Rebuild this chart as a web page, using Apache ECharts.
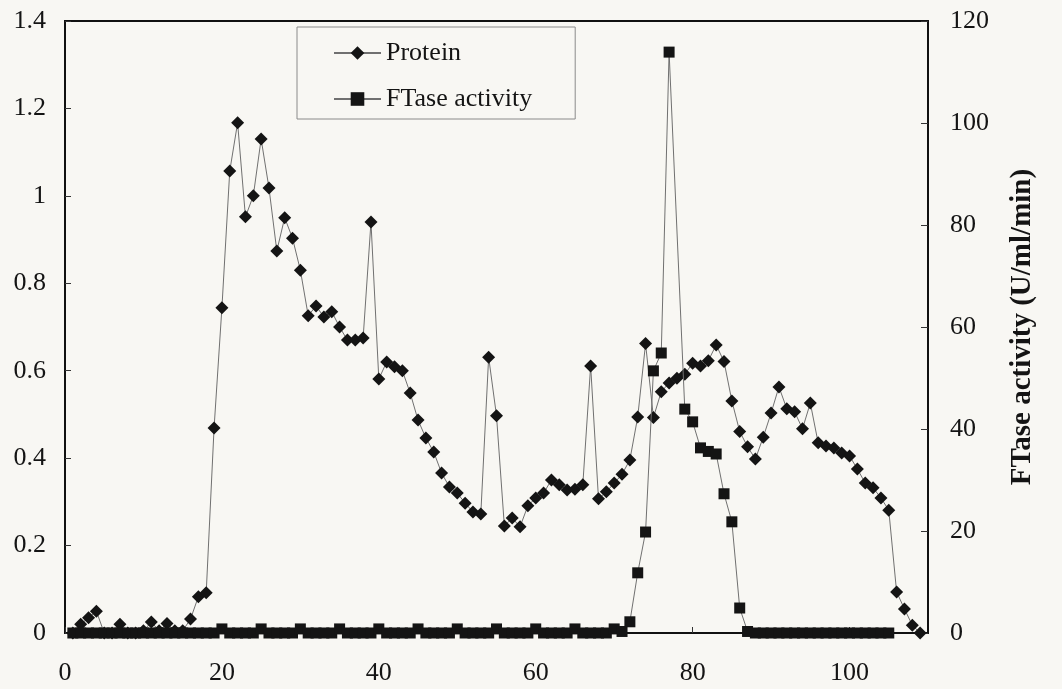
<!DOCTYPE html>
<html>
<head>
<meta charset="utf-8">
<script src="https://cdn.jsdelivr.net/npm/echarts@6/dist/echarts.min.js"></script>
<style>
  html, body { margin: 0; padding: 0; background: #f8f7f3; }
  #chart { width: 1062px; height: 689px; }
</style>
</head>
<body>
<div id="chart"></div>
<script>
// Elution profile: fraction number vs. protein (A280) and FTase activity
const firstFraction = 1;

// Protein content, fractions 1..109
const protein = [
  0.00, 0.02, 0.035, 0.05, 0.00, 0.00, 0.02, 0.00, 0.00, 0.005,
  0.025, 0.005, 0.022, 0.005, 0.005, 0.032, 0.083, 0.092, 0.469, 0.744,
  1.057, 1.167, 0.952, 1.00, 1.13, 1.018, 0.874, 0.95, 0.903, 0.83,
  0.726, 0.748, 0.723, 0.735, 0.70, 0.67, 0.67, 0.675, 0.94, 0.581,
  0.62, 0.609, 0.60, 0.549, 0.487, 0.446, 0.414, 0.366, 0.334, 0.32,
  0.297, 0.277, 0.272, 0.631, 0.497, 0.245, 0.263, 0.243, 0.291, 0.309,
  0.32, 0.35, 0.339, 0.327, 0.329, 0.339, 0.611, 0.307, 0.323, 0.343,
  0.363, 0.396, 0.494, 0.662, 0.493, 0.552, 0.572, 0.583, 0.592, 0.617,
  0.611, 0.623, 0.659, 0.621, 0.531, 0.461, 0.426, 0.398, 0.448, 0.503,
  0.563, 0.513, 0.506, 0.467, 0.526, 0.435, 0.428, 0.423, 0.412, 0.405,
  0.375, 0.343, 0.332, 0.309, 0.281, 0.094, 0.055, 0.018, 0.00
];

// FTase activity (U/ml/min), fractions 1..105 (fraction 78 not assayed)
const ftase = [
  0, 0, 0, 0, 0, 0, 0, 0, 0, 0,
  0, 0, 0, 0, 0, 0, 0, 0, 0, 0.8,
  0, 0, 0, 0, 0.8, 0, 0, 0, 0, 0.8,
  0, 0, 0, 0, 0.8, 0, 0, 0, 0, 0.8,
  0, 0, 0, 0, 0.8, 0, 0, 0, 0, 0.8,
  0, 0, 0, 0, 0.8, 0, 0, 0, 0, 0.8,
  0, 0, 0, 0, 0.8, 0, 0, 0, 0, 0.8,
  0.3, 2.2, 11.8, 19.8, 51.4, 54.9, 113.9, null, 43.9, 41.4,
  36.3, 35.6, 35.1, 27.3, 21.8, 4.9, 0.3, 0, 0, 0,
  0, 0, 0, 0, 0, 0, 0, 0, 0, 0,
  0, 0, 0, 0, 0
];

const xTicks = { min: 0, max: 110, interval: 20 };
const leftTicks = { min: 0, max: 1.4, interval: 0.2 };
const rightTicks = { min: 0, max: 120, interval: 20 };

const toPairs = arr => arr.map((v, i) => [firstFraction + i, v]);

const serif = '"Liberation Serif", "Times New Roman", serif';
const ink = '#141414';

const chart = echarts.init(document.getElementById('chart'), null, { renderer: 'canvas' });

chart.setOption({
  backgroundColor: '#f8f7f3',
  animation: false,
  grid: {
    left: 65, right: 134, top: 21, bottom: 56,
    show: true, borderColor: '#111', borderWidth: 2,
    backgroundColor: 'transparent'
  },
  legend: {
    orient: 'vertical',
    left: 297, top: 27,
    padding: [13, 43, 7, 36],
    itemWidth: 47, itemHeight: 17, itemGap: 20,
    borderColor: '#8a8a8a', borderWidth: 1,
    backgroundColor: 'transparent',
    textStyle: { fontFamily: serif, fontSize: 26, lineHeight: 26, color: ink },
    data: ['Protein', 'FTase activity']
  },
  xAxis: {
    type: 'value',
    min: xTicks.min, max: xTicks.max, interval: xTicks.interval,
    axisLine: { lineStyle: { color: '#111', width: 2 } },
    axisTick: { inside: true, length: 6, lineStyle: { color: '#333' } },
    axisLabel: { showMaxLabel: false, margin: 27, fontFamily: serif, fontSize: 26, color: ink },
    splitLine: { show: false }
  },
  yAxis: [
    {
      type: 'value',
      min: leftTicks.min, max: leftTicks.max, interval: leftTicks.interval,
      axisLine: { show: true, lineStyle: { color: '#111', width: 2 } },
      axisTick: { show: true, inside: true, length: 6, lineStyle: { color: '#333' } },
      axisLabel: { margin: 19, fontFamily: serif, fontSize: 26, color: ink },
      splitLine: { show: false }
    },
    {
      type: 'value',
      position: 'right',
      min: rightTicks.min, max: rightTicks.max, interval: rightTicks.interval,
      name: 'FTase activity (U/ml/min)',
      nameLocation: 'middle',
      nameRotate: 90,
      nameGap: 80,
      nameTextStyle: { fontFamily: serif, fontSize: 29, fontWeight: 'bold', color: ink },
      axisLine: { show: true, lineStyle: { color: '#111', width: 2 } },
      axisTick: { show: true, inside: true, length: 7, lineStyle: { color: '#333' } },
      axisLabel: { margin: 22, fontFamily: serif, fontSize: 26, color: ink },
      splitLine: { show: false }
    }
  ],
  series: [
    {
      name: 'Protein',
      type: 'line',
      yAxisIndex: 0,
      data: toPairs(protein),
      symbol: 'diamond',
      symbolSize: 13,
      showAllSymbol: true,
      itemStyle: { color: '#141414' },
      lineStyle: { color: '#707070', width: 1 },
      z: 2
    },
    {
      name: 'FTase activity',
      type: 'line',
      yAxisIndex: 1,
      data: toPairs(ftase),
      connectNulls: true,
      symbol: 'rect',
      symbolSize: 11,
      showAllSymbol: true,
      itemStyle: { color: '#141414' },
      lineStyle: { color: '#707070', width: 1 },
      z: 3
    }
  ]
});
</script>
</body>
</html>
